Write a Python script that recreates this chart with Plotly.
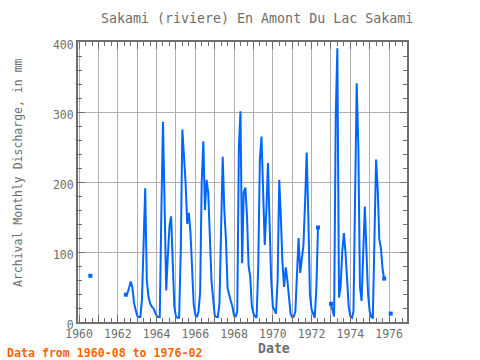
import plotly.graph_objects as go

# ---- data: monthly discharge (mm), Jan..Dec per year, None = missing ----
v1960 = [None, None, None, None, None, None, None, 66, None, None, None, None]
v1961 = [None] * 12
v1962 = [None, None, None, None, None, 39, 41, 49, 58, 50, 28, 18]
v1963 = [9, 7, 7, 32, 127, 191, 60, 36, 27, 22, 20, 15]
v1964 = [9, 7, 7, 160, 286, 165, 45, 95, 137, 151, 90, 22]
v1965 = [8, 6, 6, 100, 275, 240, 199, 140, 156, 129, 85, 25]
v1966 = [10, 7, 15, 42, 200, 258, 160, 203, 185, 132, 60, 34]
v1967 = [10, 7, 7, 27, 160, 236, 160, 118, 48, 37, 30, 22]
v1968 = [9, 8, 15, 251, 301, 84, 185, 192, 151, 80, 65, 22]
v1969 = [12, 8, 6, 80, 232, 265, 200, 110, 160, 227, 140, 60]
v1970 = [22, 15, 12, 60, 203, 150, 85, 50, 78, 60, 35, 12]
v1971 = [7, 8, 15, 60, 120, 70, 95, 110, 172, 242, 150, 40]
v1972 = [18, 10, 6, 50, 135, None, None, None, None, None, None, None]
v1973 = [26, 18, 8, 296, 391, 35, 50, 100, 127, 100, 55, 22]
v1974 = [8, 6, 15, 150, 341, 250, 50, 30, 100, 165, 100, 40]
v1975 = [15, 7, 6, 120, 232, 190, 118, 105, 75, 62, None, None]
v1976 = [None, 12]

years = list(range(1960, 1977))
yearly = [v1960, v1961, v1962, v1963, v1964, v1965, v1966, v1967, v1968,
          v1969, v1970, v1971, v1972, v1973, v1974, v1975, v1976]

x_tick_vals = [f"{y}-01-01" for y in range(1960, 1977)]
x_tick_text = [str(y) if y % 2 == 0 else "" for y in range(1960, 1977)]
y_tick_vals = [0, 100, 200, 300, 400]

title_text = "Sakami (riviere) En Amont Du Lac Sakami"
y_title = "Archival Monthly Discharge, in mm"
x_title = "Date"
footer = "Data from 1960-08 to 1976-02"

dates, vals = [], []
for y, arr in zip(years, yearly):
    for i, v in enumerate(arr):
        dates.append(f"{y}-{i+1:02d}-01")
        vals.append(v)
first = next(i for i, v in enumerate(vals) if v is not None)
dates, vals = dates[first:], vals[first:]

# points lacking a neighbour on one side get a marker (segment ends)
mx, my = [], []
for i, v in enumerate(vals):
    if v is None:
        continue
    prev_ok = i > 0 and vals[i - 1] is not None
    next_ok = i < len(vals) - 1 and vals[i + 1] is not None
    if not (prev_ok and next_ok):
        mx.append(dates[i]); my.append(v)

W, H = 480, 360
L, R, T, B = 78, 73, 42, 38
pw, ph = W - L - R, H - T - B

def px(xp):
    return (xp - L) / pw

def py(yp):
    return (H - B - yp) / ph

GRAY = "#6e6e6e"
FONT = "DejaVu Sans Mono"
BLUE = "#0066ff"

fig = go.Figure()
fig.add_trace(go.Scatter(x=dates, y=vals, mode="lines", connectgaps=False,
                         line=dict(color=BLUE, width=2), showlegend=False))
fig.add_trace(go.Scatter(x=mx, y=my, mode="markers",
                         marker=dict(color=BLUE, size=4, symbol="square"),
                         showlegend=False))

fig.update_layout(
    width=W, height=H, autosize=False,
    margin=dict(l=L, r=R, t=T, b=B, pad=0),
    paper_bgcolor="white", plot_bgcolor="white",
    font=dict(family=FONT, color=GRAY, size=11.5),
    xaxis=dict(
        type="date", range=["1959-12-12", "1976-12-04"],
        tickmode="array", tickvals=x_tick_vals, ticktext=x_tick_text,
        showgrid=True, gridcolor="#b0b0b0", gridwidth=1,
        ticks="inside", ticklen=7, tickcolor=GRAY, tickwidth=1,
        minor=dict(ticks="inside", ticklen=4, dtick="M4", tick0="1960-01-01",
                   tickcolor=GRAY, showgrid=False),
        showline=True, linecolor=GRAY, linewidth=2, mirror="ticks",
        zeroline=False,
        tickfont=dict(size=11.5, color=GRAY, family=FONT),
    ),
    yaxis=dict(
        range=[0, 400], tickmode="array", tickvals=y_tick_vals,
        showgrid=True, gridcolor="#b0b0b0", gridwidth=1,
        ticks="inside", ticklen=7, tickcolor=GRAY, tickwidth=1,
        minor=dict(ticks="inside", ticklen=4, dtick=20, tickcolor=GRAY,
                   showgrid=False),
        showline=True, linecolor=GRAY, linewidth=2, mirror="ticks",
        zeroline=False, ticklabelshift=3,
        tickfont=dict(size=11.5, color=GRAY, family=FONT),
    ),
    annotations=[
        dict(text=title_text, x=px(257), y=py(18), xref="paper", yref="paper",
             showarrow=False, xanchor="center", yanchor="middle",
             font=dict(size=13.3, color=GRAY, family=FONT)),
        dict(text=y_title, x=px(18), y=py(173), xref="paper", yref="paper",
             showarrow=False, textangle=-90, xanchor="center", yanchor="middle",
             font=dict(size=11.5, color=GRAY, family=FONT)),
        dict(text="<b>" + x_title + "</b>", x=px(274), y=py(348),
             xref="paper", yref="paper", showarrow=False,
             xanchor="center", yanchor="middle",
             font=dict(size=13.2, color=GRAY, family=FONT)),
        dict(text="<b>" + footer + "</b>", x=px(5), y=py(352.5),
             xref="paper", yref="paper", showarrow=False,
             xanchor="left", yanchor="middle",
             font=dict(size=11.6, color="#ff6600", family=FONT)),
    ],
)

fig.write_html("out.html",
               config={"displayModeBar": False, "staticPlot": True},
               post_script="document.body.style.margin='0';"
                           "document.body.style.overflow='hidden';")
